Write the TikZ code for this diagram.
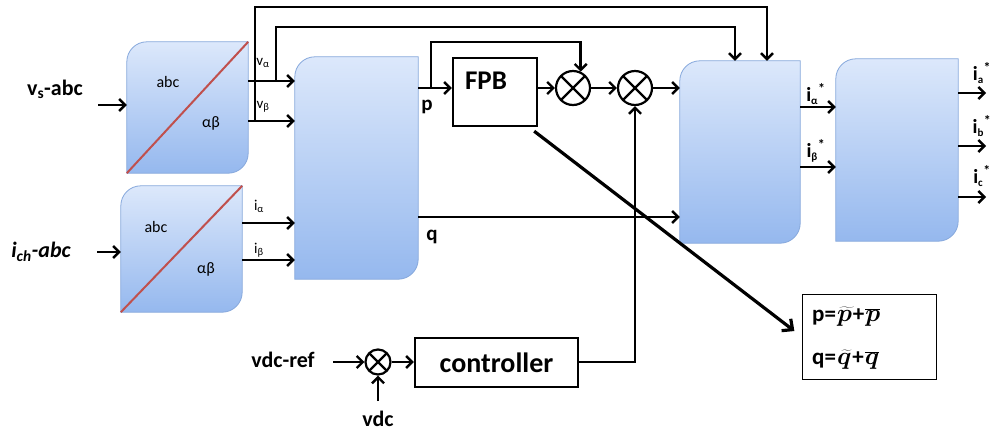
\documentclass[tikz,border=0pt]{standalone}
\usepackage{fontspec}
\setmainfont{Carlito}
\usetikzlibrary{arrows.meta,calc}

\definecolor{blocktop}{HTML}{DCE8FB}
\definecolor{blockbot}{HTML}{95B8EE}
\definecolor{blockedge}{HTML}{86A8DC}
\definecolor{splitred}{HTML}{C0504D}

\newcommand\fsz[1]{\fontsize{#1}{#1}\selectfont}

% block with rounded top-left and bottom-right corners
\newcommand\softblock[1]{%
  \shade[top color=blocktop, bottom color=blockbot, draw=blockedge, line width=0.8pt]
    ($(#1.north west)+(0,20)$) .. controls ($(#1.north west)+(0,9)$) and ($(#1.north west)+(9,0)$) ..
    ($(#1.north west)+(20,0)$) -- (#1.north east) -- ($(#1.south east)+(0,-20)$)
    .. controls ($(#1.south east)+(0,-9)$) and ($(#1.south east)+(-9,0)$) ..
    ($(#1.south east)+(-20,0)$) -- (#1.south west) -- cycle;}

\tikzset{
  frame/.style={rectangle, inner sep=0pt},
  wire/.style={line width=2.4pt},
  arr/.style={wire, -{Straight Barb[length=6pt,width=12pt]}},
  bigarr/.style={line width=3.2pt, -{Straight Barb[length=8pt,width=15pt]}},
  mult/.style={circle, draw, line width=2.2pt, inner sep=0pt, minimum size=#1,
    path picture={\draw[line width=2.2pt]
      (path picture bounding box.north west) -- (path picture bounding box.south east)
      (path picture bounding box.north east) -- (path picture bounding box.south west);}},
  lbl/.style={inner sep=0pt, font=\fsz{21}\bfseries},
  small/.style={inner sep=0pt, font=\fsz{15}},
  boxtxt/.style={inner sep=0pt, font=\fsz{16}},
  startxt/.style={inner sep=0pt, font=\fsz{20}\bfseries},
  eqtxt/.style={inner sep=0pt, anchor=west, font=\fsz{23}\bfseries},
}

\begin{document}
\begin{tikzpicture}[x=1pt,y=-1pt]
\useasboundingbox (0,0) rectangle (993,432);

% frames of the blocks
\node[frame, minimum width=121pt, minimum height=131pt] (b1) at (187.5,107.5) {};
\node[frame, minimum width=121pt, minimum height=126pt] (b4) at (181.5,249) {};
\node[frame, minimum width=123pt, minimum height=222pt] (b2) at (356.5,168) {};
\node[frame, minimum width=120pt, minimum height=182pt] (b3) at (740,152) {};
\node[frame, minimum width=122pt, minimum height=182pt] (b5) at (897,150) {};

\softblock{b1}
\softblock{b4}
\softblock{b2}
\softblock{b3}
\softblock{b5}

% abc / alpha-beta splits
\draw[splitred, line width=2pt] (b1.south west) -- (b1.north east);
\draw[splitred, line width=2pt] (b4.south west) -- (b4.north east);
\node[boxtxt] (t1) at (168,82) {abc};
\node[boxtxt] (t2) at (211,123) {αβ};
\node[boxtxt] (t3) at (156,227) {abc};
\node[boxtxt] (t4) at (206,269) {αβ};

% plain boxes
\node[frame, draw, line width=2.4pt, minimum width=84pt, minimum height=68pt] (fpb) at (495,92) {};
\node[inner sep=0pt, font=\fsz{27}\bfseries] (fpbtxt) at (486,81) {FPB};
\node[frame, draw, line width=2.4pt, minimum width=163pt, minimum height=49pt,
      font=\fsz{28}\bfseries] (ctrl) at (496.5,362.5) {controller};
\node[frame, draw, line width=1pt, minimum width=134pt, minimum height=85pt] (eq) at (869,336.5) {};
\node[eqtxt] (eq1) at (812,317)
  {p=\kern1pt{\boldmath$\widetilde{p}$}\kern1pt+\kern1pt{\boldmath$\overline{p}$}};
\node[eqtxt] (eq2) at (812,360)
  {q=\kern1pt{\boldmath$\widetilde{q}$}\kern1pt+\kern1pt{\boldmath$\overline{q}$}};

% multipliers
\node[mult=34pt] (m1) at (573,88) {};
\node[mult=34pt] (m2) at (635,88) {};
\node[mult=25pt] (m3) at (378,362) {};

% signal rows
\coordinate (ya) at (0,81);
\coordinate (yb) at (0,121);
\coordinate (yia) at (0,223);
\coordinate (yib) at (0,260);
\coordinate (yp) at (0,88);
\coordinate (yq) at (0,217);
\coordinate (ys1) at (0,107);
\coordinate (ys2) at (0,167);

% inputs
\coordinate (vsin) at (98,105);
\coordinate (ichin) at (97,252);
\node[lbl, font=\fsz{22}\bfseries] (vslbl) at (55,89) {v\textsubscript{s}-abc};
\node[lbl, font=\fsz{22}\bfseries\itshape] (ichlbl) at (41,252) {i\textsubscript{ch}-abc};
\draw[arr] (vsin) -- (b1.west |- vsin);
\draw[arr] (ichin) -- (b4.west |- ichin);

% Clarke outputs
\draw[arr] (b1.east |- ya) -- (b2.west |- ya);
\draw[arr] (b1.east |- yb) -- (b2.west |- yb);
\draw[arr] (b4.east |- yia) -- (b2.west |- yia);
\draw[arr] (b4.east |- yib) -- (b2.west |- yib);
\node[small] (lva) at (263,63) {v\textsubscript{α}};
\node[small] (lvb) at (263,107) {v\textsubscript{β}};
\node[small] (lia) at (259,206) {i\textsubscript{α}};
\node[small] (lib) at (259,250) {i\textsubscript{β}};

% voltage feed-forward to the reference block
\coordinate (ta) at (276,27);
\coordinate (tb) at (735,27);
\coordinate (tc) at (255,7);
\coordinate (td) at (767,7);
\draw[arr] (ta |- ya) -- (ta) -- (tb) -- (b3.north -| tb);
\draw[arr] (tc |- yb) -- (tc) -- (td) -- (b3.north -| td);

% p path
\draw[arr] (b2.east |- yp) -- (fpb.west |- yp);
\node[lbl] (plbl) at (427,107) {p};
\coordinate (pb) at (431,42);
\draw[arr] (pb |- yp) -- (pb) -- (pb -| m1.65) -- (m1.65);
\draw[arr] (fpb.east |- yp) -- (m1.west);
\draw[arr] (m1.east) -- (m2.west);
\draw[arr] (m2.east) -- (b3.west |- m2);

% q path
\draw[arr] (b2.east |- yq) -- (b3.west |- yq);
\node[lbl] (qlbl) at (432,237) {q};

% reference currents
\draw[arr] (b3.east |- ys1) -- (b5.west |- ys1);
\draw[arr] (b3.east |- ys2) -- (b5.west |- ys2);
\node[startxt] (lsa) at (816,94) {i\textsubscript{\fsz{11}α}\textsuperscript{*}};
\node[startxt] (lsb) at (816,151) {i\textsubscript{\fsz{11}β}\textsuperscript{*}};

% phase outputs
\coordinate (oa) at (986,93);
\coordinate (ob) at (986,146);
\coordinate (oc) at (986,197);
\draw[arr] (b5.east |- oa) -- (oa);
\draw[arr] (b5.east |- ob) -- (ob);
\draw[arr] (b5.east |- oc) -- (oc);
\node[startxt] (la) at (982,73) {i\textsubscript{\fsz{11}a}\textsuperscript{*}};
\node[startxt] (lb) at (982,126) {i\textsubscript{\fsz{11}b}\textsuperscript{*}};
\node[startxt] (lc) at (982,176) {i\textsubscript{\fsz{11}c}\textsuperscript{*}};

% DC-link loop
\coordinate (vrefin) at (333,362);
\coordinate (vdcin) at (378,401);
\node[lbl, font=\fsz{22}\bfseries] (vreflbl) at (283,360) {vdc-ref};
\node[lbl, font=\fsz{22}\bfseries] (vdclbl) at (378,419) {vdc};
\draw[arr] (vrefin) -- (m3.west);
\draw[arr] (vdcin) -- (m3.south);
\draw[arr] (m3.east) -- (ctrl.west |- m3);
\draw[arr] (ctrl.east |- m3) -| (m2.south);

% decomposition note
\draw[bigarr, shorten >=9pt] ([shift={(-4,4)}]fpb.south east) -- (eq.west);
\end{tikzpicture}
\end{document}
